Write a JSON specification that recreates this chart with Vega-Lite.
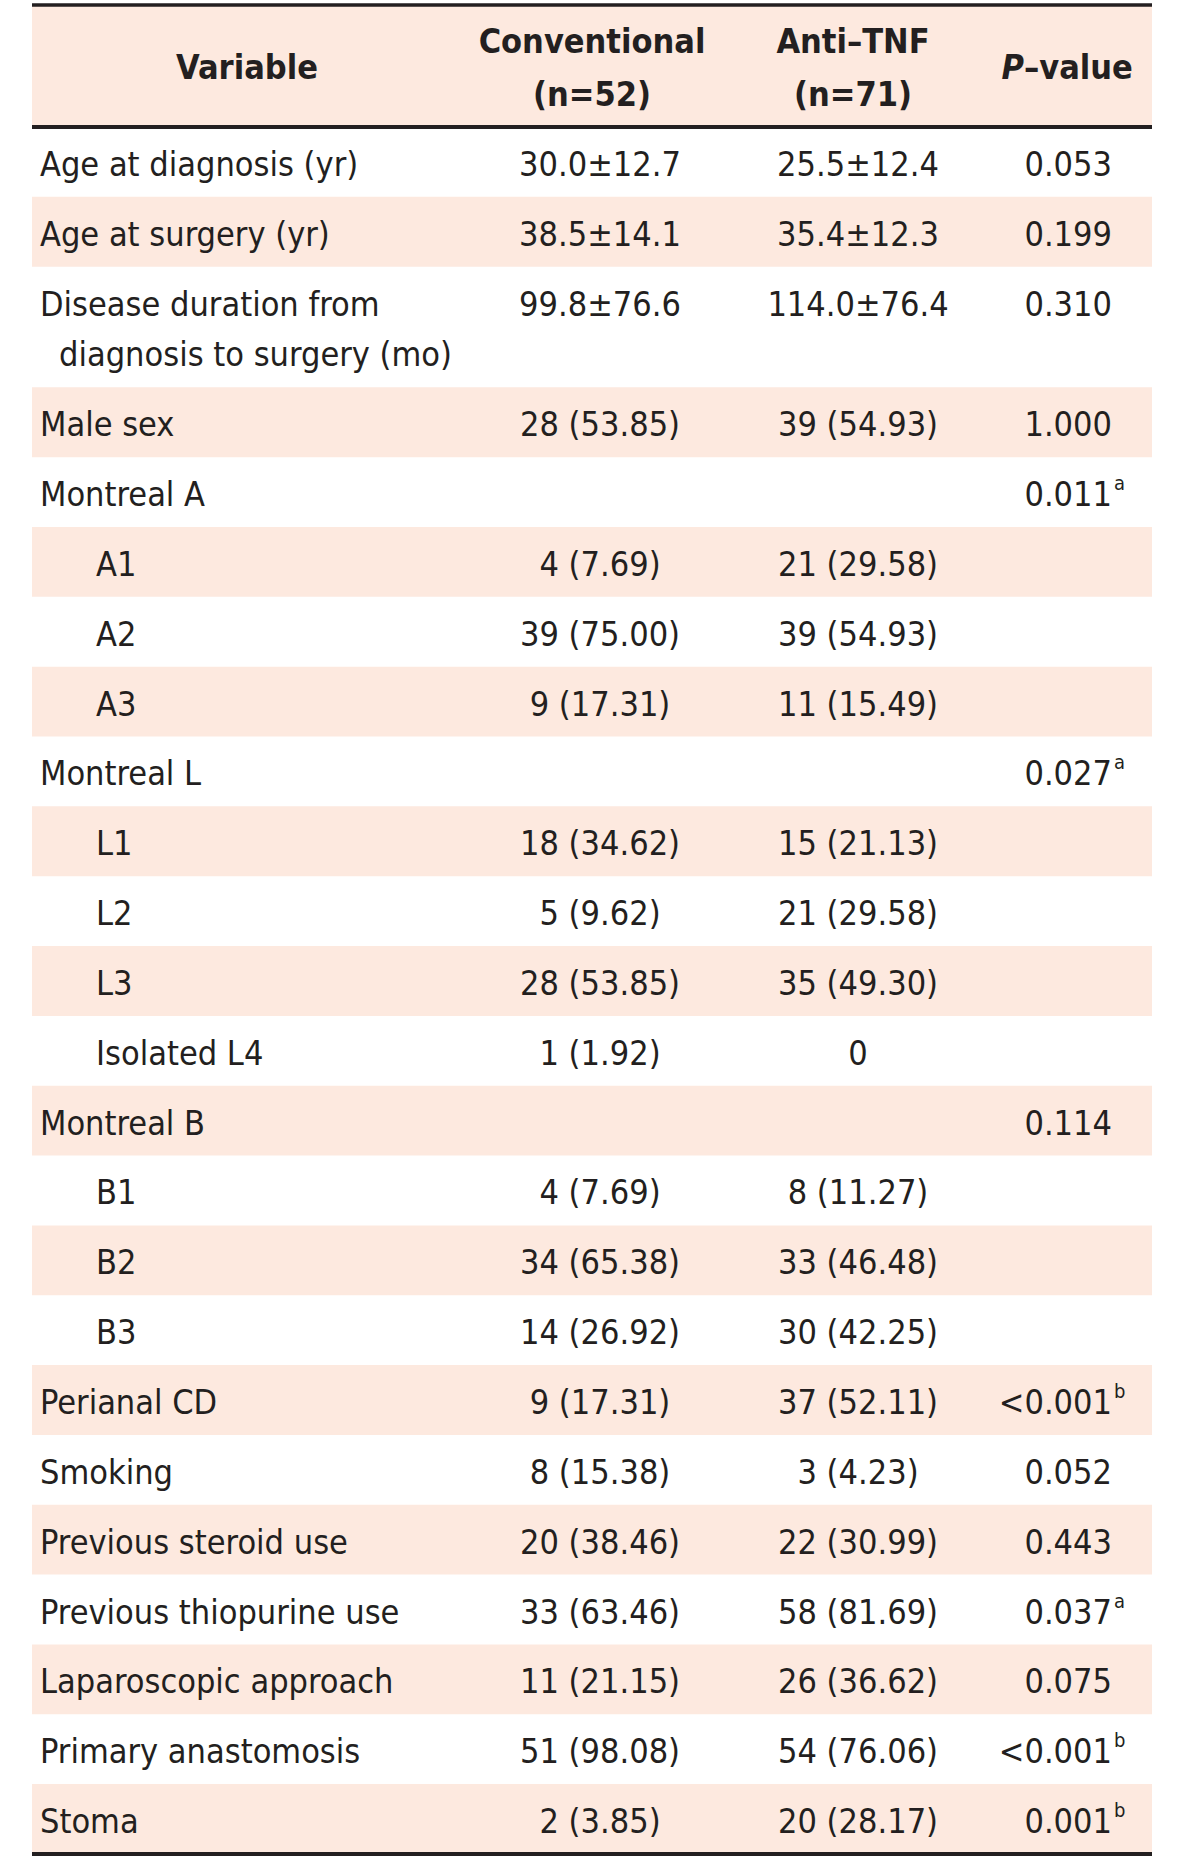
{
  "$schema": "https://vega.github.io/schema/vega-lite/v6.json",
  "width": 1120,
  "height": 1850,
  "padding": {"left": 32, "top": 5, "right": 48, "bottom": 7},
  "autosize": {"type": "none"},
  "background": "white",
  "config": {
    "view": {"stroke": null},
    "text": {"font": "DejaVu Sans Condensed, DejaVu Sans, sans-serif", "fontSize": 34, "color": "#231F20"}
  },
  "data": {
    "values": [
      {"row": 0, "lines": 2, "sub": false, "var": "Variable", "cont": "", "conv": "Conventional\n(n=52)", "anti": "Anti–TNF\n(n=71)", "p": "P", "pv": "–value", "sup": ""},
      {"row": 1, "lines": 1, "sub": false, "var": "Age at diagnosis (yr)", "cont": "", "conv": "30.0±12.7", "anti": "25.5±12.4", "p": "0.053", "sup": ""},
      {"row": 2, "lines": 1, "sub": false, "var": "Age at surgery (yr)", "cont": "", "conv": "38.5±14.1", "anti": "35.4±12.3", "p": "0.199", "sup": ""},
      {"row": 3, "lines": 2, "sub": false, "var": "Disease duration from", "cont": "diagnosis to surgery (mo)", "conv": "99.8±76.6", "anti": "114.0±76.4", "p": "0.310", "sup": ""},
      {"row": 4, "lines": 1, "sub": false, "var": "Male sex", "cont": "", "conv": "28 (53.85)", "anti": "39 (54.93)", "p": "1.000", "sup": ""},
      {"row": 5, "lines": 1, "sub": false, "var": "Montreal A", "cont": "", "conv": "", "anti": "", "p": "0.011", "sup": "a"},
      {"row": 6, "lines": 1, "sub": true, "var": "A1", "cont": "", "conv": "4 (7.69)", "anti": "21 (29.58)", "p": "", "sup": ""},
      {"row": 7, "lines": 1, "sub": true, "var": "A2", "cont": "", "conv": "39 (75.00)", "anti": "39 (54.93)", "p": "", "sup": ""},
      {"row": 8, "lines": 1, "sub": true, "var": "A3", "cont": "", "conv": "9 (17.31)", "anti": "11 (15.49)", "p": "", "sup": ""},
      {"row": 9, "lines": 1, "sub": false, "var": "Montreal L", "cont": "", "conv": "", "anti": "", "p": "0.027", "sup": "a"},
      {"row": 10, "lines": 1, "sub": true, "var": "L1", "cont": "", "conv": "18 (34.62)", "anti": "15 (21.13)", "p": "", "sup": ""},
      {"row": 11, "lines": 1, "sub": true, "var": "L2", "cont": "", "conv": "5 (9.62)", "anti": "21 (29.58)", "p": "", "sup": ""},
      {"row": 12, "lines": 1, "sub": true, "var": "L3", "cont": "", "conv": "28 (53.85)", "anti": "35 (49.30)", "p": "", "sup": ""},
      {"row": 13, "lines": 1, "sub": true, "var": "Isolated L4", "cont": "", "conv": "1 (1.92)", "anti": "0", "p": "", "sup": ""},
      {"row": 14, "lines": 1, "sub": false, "var": "Montreal B", "cont": "", "conv": "", "anti": "", "p": "0.114", "sup": ""},
      {"row": 15, "lines": 1, "sub": true, "var": "B1", "cont": "", "conv": "4 (7.69)", "anti": "8 (11.27)", "p": "", "sup": ""},
      {"row": 16, "lines": 1, "sub": true, "var": "B2", "cont": "", "conv": "34 (65.38)", "anti": "33 (46.48)", "p": "", "sup": ""},
      {"row": 17, "lines": 1, "sub": true, "var": "B3", "cont": "", "conv": "14 (26.92)", "anti": "30 (42.25)", "p": "", "sup": ""},
      {"row": 18, "lines": 1, "sub": false, "var": "Perianal CD", "cont": "", "conv": "9 (17.31)", "anti": "37 (52.11)", "p": "<0.001", "sup": "b"},
      {"row": 19, "lines": 1, "sub": false, "var": "Smoking", "cont": "", "conv": "8 (15.38)", "anti": "3 (4.23)", "p": "0.052", "sup": ""},
      {"row": 20, "lines": 1, "sub": false, "var": "Previous steroid use", "cont": "", "conv": "20 (38.46)", "anti": "22 (30.99)", "p": "0.443", "sup": ""},
      {"row": 21, "lines": 1, "sub": false, "var": "Previous thiopurine use", "cont": "", "conv": "33 (63.46)", "anti": "58 (81.69)", "p": "0.037", "sup": "a"},
      {"row": 22, "lines": 1, "sub": false, "var": "Laparoscopic approach", "cont": "", "conv": "11 (21.15)", "anti": "26 (36.62)", "p": "0.075", "sup": ""},
      {"row": 23, "lines": 1, "sub": false, "var": "Primary anastomosis", "cont": "", "conv": "51 (98.08)", "anti": "54 (76.06)", "p": "<0.001", "sup": "b"},
      {"row": 24, "lines": 1, "sub": false, "var": "Stoma", "cont": "", "conv": "2 (3.85)", "anti": "20 (28.17)", "p": "0.001", "sup": "b"}
    ]
  },
  "transform": [
    {"calculate": "datum.row == 0 ? 122 : 19.04 + 50.8 * datum.lines", "as": "h"},
    {"window": [{"op": "sum", "field": "h", "as": "bottom"}], "sort": [{"field": "row", "order": "ascending"}], "frame": [null, 0]},
    {"calculate": "datum.bottom - datum.h", "as": "top"},
    {"calculate": "datum.row == 0 ? datum.top + 61 : datum.top + 34.92", "as": "first"},
    {"calculate": "datum.top + 35", "as": "hline"},
    {"calculate": "datum.top + 34.92 + 50.8", "as": "second"}
  ],
  "layer": [
    {
      "transform": [{"filter": "datum.row % 2 == 0"}],
      "mark": {"type": "rect", "color": "#FDE9DF"},
      "encoding": {
        "y": {"field": "top", "type": "quantitative", "scale": {"domain": [0, 1850], "reverse": true, "nice": false, "zero": false}, "axis": null},
        "y2": {"field": "bottom"}
      }
    },
    {
      "transform": [{"filter": "datum.row == 0"}],
      "mark": {"type": "rule", "color": "#231F20", "strokeWidth": 3.5},
      "encoding": {"y": {"field": "top", "type": "quantitative"}}
    },
    {
      "transform": [{"filter": "datum.row == 0 || datum.row == 24"}],
      "mark": {"type": "rule", "color": "#231F20", "strokeWidth": 4},
      "encoding": {"y": {"field": "bottom", "type": "quantitative"}}
    },
    {
      "transform": [{"filter": "datum.row == 0"}],
      "layer": [
        {
          "mark": {"type": "text", "fontWeight": "bold", "align": "center", "baseline": "middle", "dy": 3},
          "encoding": {
            "x": {"datum": 215, "type": "quantitative", "scale": {"domain": [0, 1120], "nice": false, "zero": false}, "axis": null},
            "y": {"field": "first", "type": "quantitative"},
            "text": {"field": "var"}
          }
        },
        {
          "mark": {"type": "text", "fontWeight": "bold", "align": "center", "baseline": "middle", "lineBreak": "\n", "lineHeight": 53, "dy": 3},
          "encoding": {
            "x": {"datum": 560, "type": "quantitative"},
            "y": {"field": "hline", "type": "quantitative"},
            "text": {"field": "conv"}
          }
        },
        {
          "mark": {"type": "text", "fontWeight": "bold", "align": "center", "baseline": "middle", "lineBreak": "\n", "lineHeight": 53, "dy": 3},
          "encoding": {
            "x": {"datum": 821, "type": "quantitative"},
            "y": {"field": "hline", "type": "quantitative"},
            "text": {"field": "anti"}
          }
        },
        {
          "mark": {"type": "text", "fontWeight": "bold", "fontStyle": "italic", "align": "right", "baseline": "middle", "dy": 3},
          "encoding": {
            "x": {"datum": 992, "type": "quantitative"},
            "y": {"field": "first", "type": "quantitative"},
            "text": {"field": "p"}
          }
        },
        {
          "mark": {"type": "text", "fontWeight": "bold", "align": "left", "baseline": "middle", "dy": 3},
          "encoding": {
            "x": {"datum": 992, "type": "quantitative"},
            "y": {"field": "first", "type": "quantitative"},
            "text": {"field": "pv"}
          }
        }
      ]
    },
    {
      "transform": [{"filter": "datum.row > 0"}],
      "layer": [
        {
          "transform": [{"filter": "!datum.sub"}],
          "mark": {"type": "text", "align": "left", "baseline": "middle", "dy": 4},
          "encoding": {
            "x": {"datum": 8, "type": "quantitative"},
            "y": {"field": "first", "type": "quantitative"},
            "text": {"field": "var"}
          }
        },
        {
          "transform": [{"filter": "datum.cont != ''"}],
          "mark": {"type": "text", "align": "left", "baseline": "middle", "dy": 4},
          "encoding": {
            "x": {"datum": 27, "type": "quantitative"},
            "y": {"field": "second", "type": "quantitative"},
            "text": {"field": "cont"}
          }
        },
        {
          "transform": [{"filter": "datum.sub"}],
          "mark": {"type": "text", "align": "left", "baseline": "middle", "dy": 4},
          "encoding": {
            "x": {"datum": 64, "type": "quantitative"},
            "y": {"field": "first", "type": "quantitative"},
            "text": {"field": "var"}
          }
        },
        {
          "mark": {"type": "text", "align": "center", "baseline": "middle", "dy": 4},
          "encoding": {
            "x": {"datum": 568, "type": "quantitative"},
            "y": {"field": "first", "type": "quantitative"},
            "text": {"field": "conv"}
          }
        },
        {
          "mark": {"type": "text", "align": "center", "baseline": "middle", "dy": 4},
          "encoding": {
            "x": {"datum": 826, "type": "quantitative"},
            "y": {"field": "first", "type": "quantitative"},
            "text": {"field": "anti"}
          }
        },
        {
          "mark": {"type": "text", "align": "right", "baseline": "middle", "dy": 4},
          "encoding": {
            "x": {"datum": 1080, "type": "quantitative"},
            "y": {"field": "first", "type": "quantitative"},
            "text": {"field": "p"}
          }
        },
        {
          "mark": {"type": "text", "align": "left", "baseline": "middle", "fontSize": 20, "dy": -8},
          "encoding": {
            "x": {"datum": 1082, "type": "quantitative"},
            "y": {"field": "first", "type": "quantitative"},
            "text": {"field": "sup"}
          }
        }
      ]
    }
  ]
}
